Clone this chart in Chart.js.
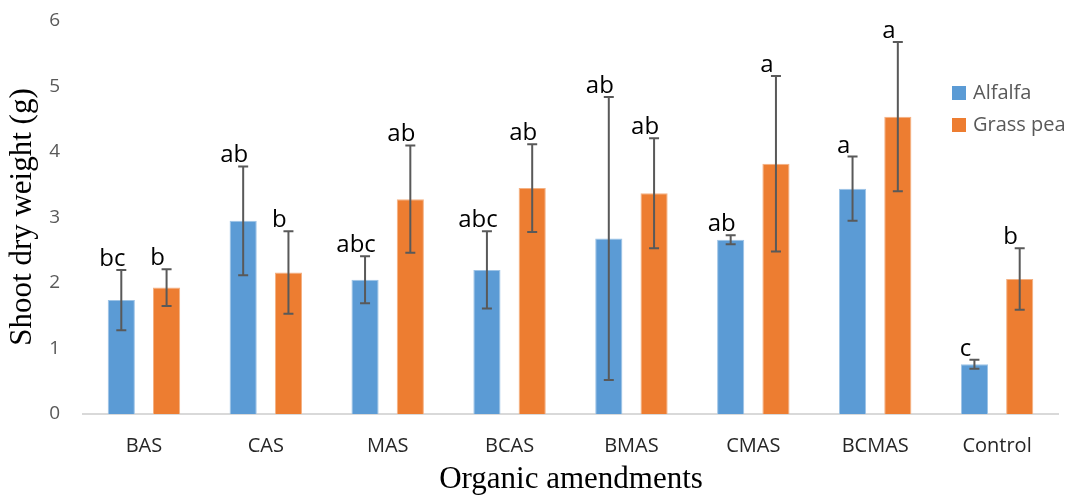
<!DOCTYPE html>
<html>
<head>
<meta charset="utf-8">
<script src="https://cdn.jsdelivr.net/npm/chart.js@4.4.1/dist/chart.umd.min.js"></script>
<style>
  html, body { margin: 0; padding: 0; background: #fff; }
  #wrap { width: 1070px; height: 495px; }
</style>
</head>
<body>
<div id="wrap"><canvas id="chart" width="1070" height="495"></canvas></div>
<script>
// Data
const categories = ["BAS", "CAS", "MAS", "BCAS", "BMAS", "CMAS", "BCMAS", "Control"];
const alfalfa = [1.74, 2.95, 2.05, 2.20, 2.68, 2.66, 3.44, 0.76];
const alfalfaErr = [0.46, 0.83, 0.36, 0.59, 2.16, 0.07, 0.49, 0.07];
const alfalfaLetters = ["bc", "ab", "abc", "abc", "ab", "ab", "a", "c"];
const grassPea = [1.93, 2.16, 3.28, 3.45, 3.37, 3.82, 4.54, 2.06];
const grassPeaErr = [0.28, 0.63, 0.82, 0.67, 0.84, 1.34, 1.14, 0.47];
const grassPeaLetters = ["b", "b", "ab", "ab", "ab", "a", "a", "b"];
const yTicks = [0, 1, 2, 3, 4, 5, 6];

const errs = [alfalfaErr, grassPeaErr];
const letters = [alfalfaLetters, grassPeaLetters];

// Error bars, letters, legend, axis titles
const overlay = {
  id: "overlay",
  afterDatasetsDraw(chart) {
    const ctx = chart.ctx;
    const y = chart.scales.y;
    chart.data.datasets.forEach((ds, i) => {
      const meta = chart.getDatasetMeta(i);
      meta.data.forEach((bar, j) => {
        const v = ds.data[j], e = errs[i][j];
        const yt = y.getPixelForValue(v + e);
        const yb = y.getPixelForValue(v - e);
        const x = bar.x;
        ctx.save();
        ctx.strokeStyle = "#595959";
        ctx.lineWidth = 2;
        ctx.beginPath();
        ctx.moveTo(x, yt); ctx.lineTo(x, yb);
        ctx.moveTo(x - 5, yt); ctx.lineTo(x + 5, yt);
        ctx.moveTo(x - 5, yb); ctx.lineTo(x + 5, yb);
        ctx.stroke();
        ctx.fillStyle = "#000";
        ctx.font = "24px 'Open Sans'";
        ctx.textAlign = "center";
        ctx.textBaseline = "alphabetic";
        ctx.fillText(letters[i][j], x - 9, yt - 4);
        ctx.restore();
      });
    });
  },
  afterDraw(chart) {
    const ctx = chart.ctx;
    ctx.save();
    // legend
    chart.data.datasets.forEach((ds, i) => {
      const top = 86 + i * 32;
      ctx.fillStyle = ds.backgroundColor;
      ctx.fillRect(952, top, 14, 14);
      ctx.fillStyle = "#595959";
      ctx.font = "20px 'Open Sans'";
      ctx.textAlign = "left";
      ctx.textBaseline = "middle";
      ctx.fillText(ds.label, 973, top + 7);
    });
    // axis titles
    ctx.fillStyle = "#000";
    ctx.font = "31px 'Liberation Serif'";
    ctx.textAlign = "center";
    ctx.textBaseline = "alphabetic";
    ctx.fillText("Organic amendments", 571, 488);
    ctx.translate(31, 217);
    ctx.rotate(-Math.PI / 2);
    ctx.fillText("Shoot dry weight (g)", 0, 0);
    ctx.restore();
  }
};

new Chart(document.getElementById("chart"), {
  type: "bar",
  data: {
    labels: categories,
    datasets: [
      { label: "Alfalfa", data: alfalfa, backgroundColor: "#5B9BD5", borderColor: "#9DC3E6", borderWidth: 1 },
      { label: "Grass pea", data: grassPea, backgroundColor: "#ED7D31", borderColor: "#F4B183", borderWidth: 1 }
    ]
  },
  options: {
    responsive: false,
    animation: false,
    devicePixelRatio: 1,
    categoryPercentage: 0.743,
    barPercentage: 0.6,
    layout: { padding: { top: 21, right: 12, left: 0, bottom: 0 } },
    plugins: { legend: { display: false }, tooltip: { enabled: false } },
    scales: {
      x: {
        afterFit: s => { s.height = 81; s.paddingLeft = 0; s.paddingRight = 0; },
        grid: { display: true, drawOnChartArea: false, drawTicks: false },
        border: { display: true, color: "#d9d9d9", width: 2 },
        ticks: { color: "#262626", font: { family: "'Open Sans'", size: 20 }, padding: 20 }
      },
      y: {
        min: yTicks[0],
        max: yTicks[yTicks.length - 1],
        afterFit: s => { s.width = 83; s.paddingTop = 0; s.paddingBottom = 0; },
        grid: { display: false },
        border: { display: false },
        ticks: { stepSize: 1, color: "#595959", font: { family: "'Open Sans'", size: 19 }, padding: 15 }
      }
    }
  },
  plugins: [overlay]
});
</script>
</body>
</html>
